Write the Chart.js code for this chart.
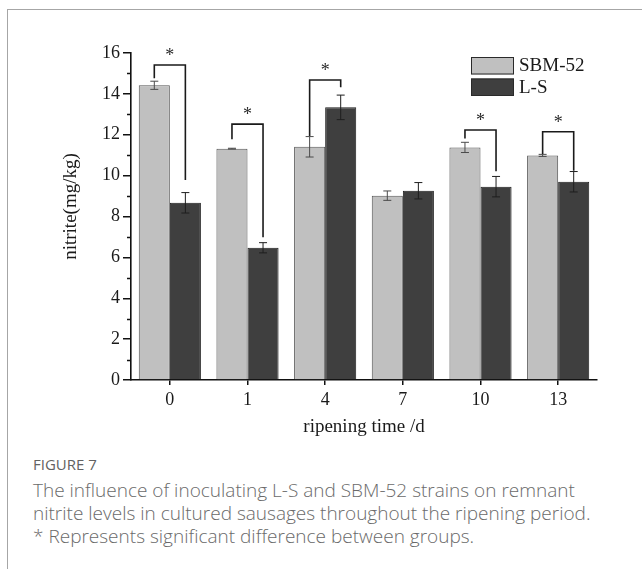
<!DOCTYPE html>
<html>
<head>
<meta charset="utf-8">
<title>Nitrite during ripening</title>
<script src="https://cdn.jsdelivr.net/npm/chart.js@4/dist/chart.umd.min.js"></script>
<style>
  html, body { margin: 0; padding: 0; background: #fff; }
  body { width: 642px; height: 569px; position: relative; overflow: hidden; }
  #frame { position: absolute; left: 7px; top: 9px; right: 0; bottom: 0;
           border-left: 1px solid #a6a6a6; border-top: 1px solid #a6a6a6; }
  #wrap { position: absolute; left: 0; top: 0; width: 642px; height: 450px; }
  .cap { position: absolute; left: 33px; font-family: "Open Sans", "Noto Sans", sans-serif;
         color: #6a6a6a; white-space: nowrap; }
  .fig { top: 454px; font-size: 15px; font-weight: 400; color: #626262; }
  .line { font-size: 19px; line-height: 23px; font-weight: 300; }
</style>
</head>
<body>
<div id="frame"></div>
<div id="wrap"><canvas id="c" width="642" height="450"></canvas></div>
<div class="cap fig">FIGURE 7</div>
<div class="cap line" style="top:479px">The influence of inoculating L-S and SBM-52 strains on remnant</div>
<div class="cap line" style="top:502px">nitrite levels in cultured sausages throughout the ripening period.</div>
<div class="cap line" style="top:525px">* Represents significant difference between groups.</div>
<script>
// Ripening days and nitrite content (mg/kg), mean and SD
const days = ['0', '1', '4', '7', '10', '13'];
const sbmValues = [14.42, 11.32, 11.41, 9.02, 11.38, 10.99];
const sbmErrors = [0.20, 0.02, 0.50, 0.23, 0.25, 0.05];
const lsValues = [8.67, 6.47, 13.34, 9.26, 9.46, 9.70];
const lsErrors = [0.50, 0.25, 0.60, 0.40, 0.50, 0.50];

// Significance brackets: day index, bracket top, left leg end, right leg end
const sigIndex = [0, 1, 2, 4, 5];
const sigTop = [15.41, 12.52, 14.68, 12.23, 12.15];
const sigLeft = [14.77, 11.78, 11.94, 11.82, 11.06];
const sigRight = [9.78, 6.98, 14.32, 10.22, 10.24];

const yMin = 0, yMax = 16, yStep = 2;

const SERIF = '"Liberation Serif", "Times New Roman", serif';

const errorBars = {
  id: 'errorBars',
  afterDatasetsDraw(chart) {
    const ctx = chart.ctx;
    const y = chart.scales.y;
    const errs = [sbmErrors, lsErrors];
    ctx.save();
    chart.data.datasets.forEach((ds, di) => {
      const meta = chart.getDatasetMeta(di);
      meta.data.forEach((bar, i) => {
        const v = ds.data[i], e = errs[di][i];
        const yt = y.getPixelForValue(v + e);
        const yb = y.getPixelForValue(v - e);
        ctx.strokeStyle = di === 0 ? '#4a4a4a' : '#1e1e1e';
        ctx.lineWidth = 1;
        ctx.beginPath();
        ctx.moveTo(bar.x, yt); ctx.lineTo(bar.x, yb);
        ctx.moveTo(bar.x - 4, yt); ctx.lineTo(bar.x + 4, yt);
        ctx.moveTo(bar.x - 4, yb); ctx.lineTo(bar.x + 4, yb);
        ctx.stroke();
      });
    });
    ctx.restore();
  }
};

const sigMarks = {
  id: 'sigMarks',
  afterDraw(chart) {
    const ctx = chart.ctx;
    const y = chart.scales.y;
    const m0 = chart.getDatasetMeta(0), m1 = chart.getDatasetMeta(1);
    ctx.save();
    ctx.strokeStyle = '#1a1a1a';
    ctx.lineWidth = 1.6;
    ctx.fillStyle = '#2a2a2a';
    ctx.font = '18px ' + SERIF;
    ctx.textAlign = 'center';
    ctx.textBaseline = 'alphabetic';
    sigIndex.forEach((idx, k) => {
      const xl = m0.data[idx].x, xr = m1.data[idx].x;
      const yt = y.getPixelForValue(sigTop[k]);
      ctx.beginPath();
      ctx.moveTo(xl, y.getPixelForValue(sigLeft[k]));
      ctx.lineTo(xl, yt);
      ctx.lineTo(xr, yt);
      ctx.lineTo(xr, y.getPixelForValue(sigRight[k]));
      ctx.stroke();
      ctx.fillText('*', (xl + xr) / 2, yt - 4);
    });
    ctx.restore();
  }
};

const axisExtras = {
  id: 'axisExtras',
  afterDraw(chart) {
    const ctx = chart.ctx;
    const y = chart.scales.y;
    const area = chart.chartArea;
    ctx.save();
    // minor ticks between labelled values
    ctx.strokeStyle = '#111';
    ctx.lineWidth = 1.3;
    ctx.beginPath();
    for (let v = yMin + yStep / 2; v < yMax; v += yStep) {
      const py = Math.round(y.getPixelForValue(v)) + 0.5;
      ctx.moveTo(area.left - 4, py); ctx.lineTo(area.left, py);
    }
    ctx.stroke();
    // vertical axis title
    ctx.fillStyle = '#1a1a1a';
    ctx.font = '19px ' + SERIF;
    ctx.textAlign = 'center';
    ctx.textBaseline = 'middle';
    ctx.translate(71, (area.top + area.bottom) / 2 - 10);
    ctx.rotate(-Math.PI / 2);
    ctx.fillText('nitrite(mg/kg)', 0, 0);
    ctx.restore();

    // legend box
    ctx.save();
    ctx.font = '19px ' + SERIF;
    ctx.textBaseline = 'middle';
    ctx.textAlign = 'left';
    chart.data.datasets.forEach((ds, i) => {
      const top = 57 + i * 21.5;
      ctx.fillStyle = ds.backgroundColor;
      ctx.fillRect(471, top, 43, 17.5);
      ctx.strokeStyle = '#2a2a2a';
      ctx.lineWidth = 1;
      ctx.strokeRect(471.5, top + 0.5, 42, 16.5);
      ctx.fillStyle = '#1a1a1a';
      ctx.fillText(ds.label, 519, top + 9.5);
    });
    ctx.restore();
  }
};

new Chart(document.getElementById('c'), {
  type: 'bar',
  data: {
    labels: days,
    datasets: [
      { label: 'SBM-52', data: sbmValues, backgroundColor: '#c0c0c0',
        borderColor: '#555555', borderWidth: 1 },
      { label: 'L-S', data: lsValues, backgroundColor: '#3f3f3f',
        borderColor: '#1c1c1c', borderWidth: 1 }
    ]
  },
  options: {
    responsive: false,
    animation: false,
    devicePixelRatio: 1,
    categoryPercentage: 0.8,
    barPercentage: 1.0,
    layout: { padding: { top: 53, right: 45, bottom: 0, left: 0 } },
    plugins: { legend: { display: false }, tooltip: { enabled: false } },
    scales: {
      x: {
        afterFit(s) { s.height = 70; },
        grid: { display: true, drawOnChartArea: false, offset: false,
                tickLength: 5, tickColor: '#111', lineWidth: 1.5 },
        border: { display: true, color: '#111', width: 1.6 },
        ticks: { color: '#1a1a1a', padding: 4, font: { family: SERIF, size: 18 } },
        title: { display: true, text: 'ripening time /d', color: '#1a1a1a',
                 padding: { top: 0, bottom: 12 }, font: { family: SERIF, size: 19 } }
      },
      y: {
        min: yMin, max: yMax,
        afterFit(s) { s.width = 131; },
        grid: { display: true, drawOnChartArea: false, tickLength: 8,
                tickColor: '#111', lineWidth: 1.5 },
        border: { display: true, color: '#111', width: 1.6 },
        ticks: { stepSize: yStep, color: '#1a1a1a', padding: 3,
                 font: { family: SERIF, size: 18 } }
      }
    }
  },
  plugins: [errorBars, sigMarks, axisExtras]
});
</script>
</body>
</html>
